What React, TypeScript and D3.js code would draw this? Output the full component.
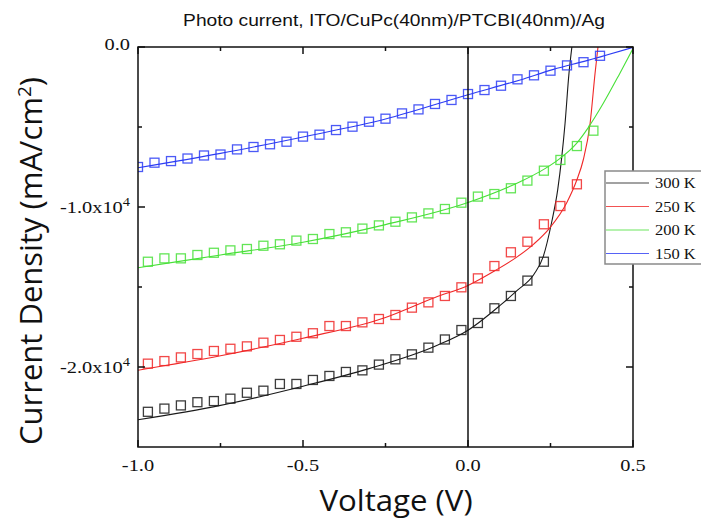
import React from 'react';
import * as d3 from 'd3';

const WIDTH = 701;
const HEIGHT = 521;
const MARGIN = { top: 47, right: 68, bottom: 74, left: 138 };

const TITLE = 'Photo current, ITO/CuPc(40nm)/PTCBI(40nm)/Ag';

const xMajor = [-1.0, -0.5, 0.0, 0.5];
const xMinor = [-0.75, -0.25, 0.25];
const yMajor = [0, -1, -2];
const yMinor = [-0.5, -1.5];
const yTickLabels = ['0.0', '-1.0x10', '-2.0x10'];

const labels = ['300 K', '250 K', '200 K', '150 K'];
const colors = ['#1a1a1a', '#f02828', '#48e038', '#2c3cf4'];

// measured points (V, J in 1e-4 mA/cm2)
const v150 = [-1.0, -0.95, -0.9, -0.85, -0.8, -0.75, -0.7, -0.65, -0.6, -0.55, -0.5, -0.45, -0.4, -0.35, -0.3,
  -0.25, -0.2, -0.15, -0.1, -0.05, 0.0, 0.05, 0.1, 0.15, 0.2, 0.25, 0.3, 0.35, 0.4];
const j150 = [-0.75, -0.723, -0.713, -0.697, -0.678, -0.672, -0.64, -0.625, -0.608, -0.592, -0.56, -0.548, -0.519,
  -0.498, -0.467, -0.448, -0.415, -0.39, -0.356, -0.331, -0.294, -0.269, -0.242, -0.202, -0.177, -0.148, -0.115,
  -0.095, -0.055];

const vShift = [-0.97, -0.92, -0.87, -0.82, -0.77, -0.72, -0.67, -0.62, -0.57, -0.52, -0.47, -0.42, -0.37, -0.32,
  -0.27, -0.22, -0.17, -0.12, -0.07, -0.02, 0.03, 0.08, 0.13, 0.18, 0.23, 0.28, 0.33, 0.38];
const j300 = [-2.28, -2.26, -2.24, -2.22, -2.213, -2.198, -2.161, -2.148, -2.106, -2.106, -2.081, -2.056, -2.031,
  -2.021, -1.985, -1.952, -1.921, -1.879, -1.828, -1.769, -1.725, -1.633, -1.556, -1.46, -1.342];
const j250 = [-1.979, -1.963, -1.94, -1.919, -1.9, -1.886, -1.871, -1.848, -1.831, -1.811, -1.789, -1.744, -1.744,
  -1.721, -1.7, -1.675, -1.629, -1.596, -1.556, -1.502, -1.446, -1.369, -1.283, -1.217, -1.108, -0.994, -0.858];
const j200 = [-1.342, -1.321, -1.321, -1.3, -1.286, -1.271, -1.2625, -1.242, -1.233, -1.21, -1.2, -1.169, -1.158,
  -1.135, -1.115, -1.092, -1.065, -1.04, -1.0125, -0.973, -0.935, -0.919, -0.883, -0.835, -0.773, -0.706, -0.619,
  -0.523];

// fitted curves
const fit300: [number, number][] = [[-1.0, -2.33], [-0.75, -2.24], [-0.5, -2.12], [-0.3, -2.01], [-0.1, -1.87],
  [0.0, -1.77], [0.1, -1.61], [0.15, -1.52], [0.2, -1.42], [0.228, -1.31], [0.253, -1.1], [0.272, -0.89],
  [0.284, -0.69], [0.294, -0.48], [0.306, -0.165], [0.316, 0.02]];
const fit250: [number, number][] = [[-1.0, -2.02], [-0.75, -1.93], [-0.5, -1.82], [-0.25, -1.69], [-0.1, -1.565],
  [0.0, -1.49], [0.08, -1.4], [0.15, -1.31], [0.2, -1.23], [0.248, -1.13], [0.3, -0.97], [0.33, -0.83],
  [0.35, -0.7], [0.37, -0.477], [0.385, -0.165], [0.395, 0.02]];
const fit200: [number, number][] = [[-1.0, -1.38], [-0.75, -1.3], [-0.5, -1.22], [-0.25, -1.11], [0.0, -0.972],
  [0.158, -0.842], [0.218, -0.779], [0.279, -0.696], [0.329, -0.602], [0.365, -0.502], [0.41, -0.352],
  [0.46, -0.165], [0.5, -0.01]];
const fit150: [number, number][] = [[-1.0, -0.755], [-0.75, -0.665], [-0.5, -0.562], [-0.25, -0.45], [0.0, -0.298],
  [0.158, -0.206], [0.259, -0.14], [0.36, -0.085], [0.5, -0.002]];

const series = [
  { v: vShift, j: j300, fit: fit300 },
  { v: vShift, j: j250, fit: fit250 },
  { v: vShift, j: j200, fit: fit200 },
  { v: v150, j: j150, fit: fit150 },
];

const SERIF = '"Liberation Serif", "Times New Roman", serif';
const SANS = '"Liberation Sans", Arial, sans-serif';
const LABEL = '"Open Sans", "Noto Sans", sans-serif';
const SX = 1.2;

export default function App() {
  const x0 = MARGIN.left;
  const x1 = WIDTH - MARGIN.right;
  const y0 = MARGIN.top;
  const y1 = HEIGHT - MARGIN.bottom;

  const x = d3.scaleLinear().domain([-1.0, 0.5]).range([x0, x1]);
  const y = d3.scaleLinear().domain([0, -2.5]).range([y0, y1]);

  const line = d3.line<[number, number]>()
    .x(d => x(d[0]))
    .y(d => y(d[1]))
    .curve(d3.curveMonotoneX);

  const SQ = 9;

  return (
    <svg width={WIDTH} height={HEIGHT} style={{ position: 'absolute', left: 0, top: 0, background: '#fff' }}>
      <defs>
        <clipPath id="plot">
          <rect x={x0} y={y0} width={x1 - x0} height={y1 - y0} />
        </clipPath>
      </defs>

      <text transform={`translate(394,26) scale(${SX},1)`} textAnchor="middle" fontFamily={SANS} fontSize={16}
        fill="#111">{TITLE}</text>

      <g clipPath="url(#plot)">
        {series.map((s, i) => (
          <g key={i}>
            <path d={line(s.fit) || ''} fill="none" stroke={colors[i]} strokeWidth={1.1} />
            {s.j.map((jv, k) => (
              <rect key={k} x={x(s.v[k]) - SQ / 2} y={y(jv) - SQ / 2} width={SQ} height={SQ}
                fill="none" stroke={colors[i]} strokeWidth={1.3} opacity={0.85} />
            ))}
          </g>
        ))}
      </g>

      {/* zero line */}
      <line x1={x(0)} x2={x(0)} y1={y0} y2={y1} stroke="#111" strokeWidth={1.5} />

      {/* ticks */}
      {xMajor.map(t => (
        <g key={'xm' + t}>
          <line x1={x(t)} x2={x(t)} y1={y1} y2={y1 - 7} stroke="#111" strokeWidth={1.5} />
          <line x1={x(t)} x2={x(t)} y1={y0} y2={y0 + 7} stroke="#111" strokeWidth={1.5} />
          <text transform={`translate(${x(t)},${y1 + 24}) scale(${SX},1)`} textAnchor="middle"
            fontFamily={SERIF} fontSize={17} fill="#111">{t.toFixed(1)}</text>
        </g>
      ))}
      {xMinor.map(t => (
        <g key={'xn' + t}>
          <line x1={x(t)} x2={x(t)} y1={y1} y2={y1 - 4} stroke="#111" strokeWidth={1.5} />
          <line x1={x(t)} x2={x(t)} y1={y0} y2={y0 + 4} stroke="#111" strokeWidth={1.5} />
        </g>
      ))}
      {yMajor.map((t, i) => (
        <g key={'ym' + t}>
          <line x1={x0} x2={x0 + 7} y1={y(t)} y2={y(t)} stroke="#111" strokeWidth={1.5} />
          <line x1={x1} x2={x1 - 7} y1={y(t)} y2={y(t)} stroke="#111" strokeWidth={1.5} />
          <text transform={`translate(130,${y(t) + (i === 0 ? 3 : 6)}) scale(${SX},1)`} textAnchor="end"
            fontFamily={SERIF} fontSize={17} fill="#111">
            {yTickLabels[i]}
            {i > 0 && <tspan dy={-7} fontSize={12}>4</tspan>}
          </text>
        </g>
      ))}
      {yMinor.map(t => (
        <g key={'yn' + t}>
          <line x1={x0} x2={x0 + 4} y1={y(t)} y2={y(t)} stroke="#111" strokeWidth={1.5} />
          <line x1={x1} x2={x1 - 4} y1={y(t)} y2={y(t)} stroke="#111" strokeWidth={1.5} />
        </g>
      ))}

      {/* frame */}
      <rect x={x0} y={y0} width={x1 - x0} height={y1 - y0} fill="none" stroke="#111" strokeWidth={1.5} />

      {/* axis titles */}
      <text transform="translate(396,511) scale(1.04,1)" textAnchor="middle" fontFamily={LABEL} fontSize={30}
        fill="#111">Voltage (V)</text>
      <text transform="translate(42,261) rotate(-90)" textAnchor="middle" fontFamily={LABEL} fontSize={31}
        fill="#111">
        Current Density (mA/cm<tspan dy={-11} fontSize={19}>2</tspan><tspan dy={11}>)</tspan>
      </text>

      {/* legend */}
      <g>
        <rect x={605} y={171} width={110} height={93} fill="#fff" stroke="#8a8a8a" strokeWidth={1.5} />
        {labels.map((l, i) => (
          <g key={l}>
            <line x1={606} x2={649} y1={183 + i * 23.5} y2={183 + i * 23.5} stroke={colors[i]} strokeWidth={1.1}
              opacity={0.8} />
            <text transform={`translate(655,${183 + i * 23.5 + 5}) scale(1.1,1)`} fontFamily={SERIF} fontSize={15}
              fill="#111">{l}</text>
          </g>
        ))}
      </g>
    </svg>
  );
}
